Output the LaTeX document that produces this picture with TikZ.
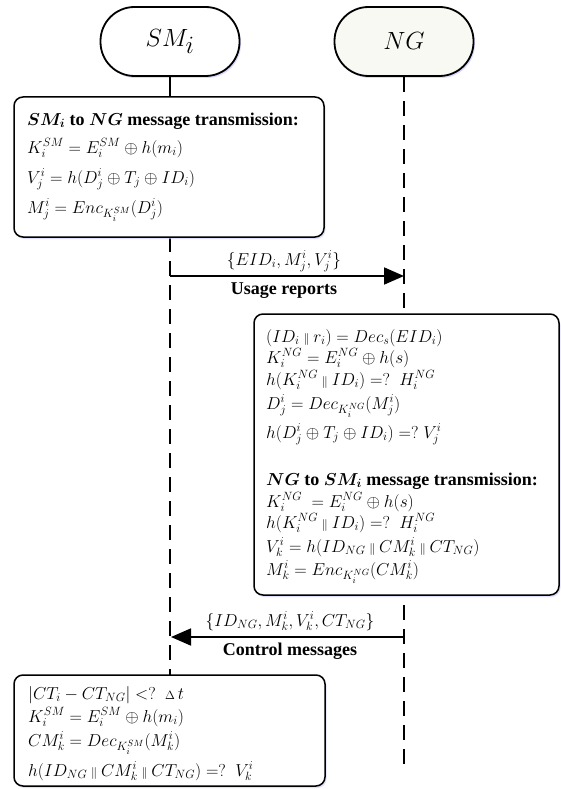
\documentclass[tikz,border=0pt]{standalone}
\usepackage{amsmath,amssymb}
\usepackage{fontspec}
\setmainfont{Liberation Serif}
\usetikzlibrary{arrows.meta,shadows}
\newcommand\cc{\mathbin{\scriptstyle\|}}
\newcommand\qeq{\mathrel{=?}}
\begin{document}
\begin{tikzpicture}[x=1pt,y=-1pt,
  capsule/.style={draw,line width=1.8pt,rounded corners=34pt,minimum width=139pt,minimum height=69pt,inner sep=0pt,
    font=\fontsize{36}{40}\selectfont,
    drop shadow={shadow xshift=1.5pt,shadow yshift=-2pt,fill=blue!25!white,opacity=0.6}},
  msgbox/.style={draw,line width=1.5pt,rounded corners=9pt,fill=white,inner sep=0pt,
    drop shadow={shadow xshift=1.5pt,shadow yshift=-2pt,fill=blue!20!white,opacity=0.6}},
  ln/.style={anchor=base west,inner sep=0pt,font=\fontsize{18}{22}\selectfont},
  lbl/.style={anchor=base,inner sep=0pt,font=\fontsize{18}{22}\selectfont},
  life/.style={line width=1.8pt,dash pattern=on 15pt off 9pt},
  msg/.style={line width=1.8pt,-{Triangle[length=20pt,width=17pt]}}
]
\useasboundingbox (0,0) rectangle (561,789);
% lifelines
\node[capsule,fill=white] (sm) at (170,41.5) {$SM_i$};
\node[capsule,fill={rgb,255:red,249;green,249;blue,243}] (ng) at (404,41.5) {$NG$};
\coordinate (smend) at (170,675);
\coordinate (ngend) at (404,767);
\draw[line width=1.8pt] (sm.south) -- (170,97);
\draw[life] (170,237) -- (smend);
\draw[life] (ng.south) -- (ngend);
% boxes
\node[msgbox,minimum width=310pt,minimum height=140pt] (b1) at (169,167) {};
\node[msgbox,minimum width=305pt,minimum height=281pt] (b2) at (406.5,454.5) {};
\node[msgbox,minimum width=311pt,minimum height=111pt] (b3) at (169.5,730.5) {};
% box 1 text
\node[ln] (t11) at (27,125) {\textbf{$\boldsymbol{SM_i}$ to $\boldsymbol{NG}$ message transmission:}};
\node[ln] (t12) at (27,153) {$K_i^{SM} = E_i^{SM} \oplus h(m_i)$};
\node[ln] (t13) at (27,183) {$V_j^i = h(D_j^i \oplus T_j \oplus ID_i)$};
\node[ln] (t14) at (27,213) {$M_j^i = Enc_{K_i^{SM}}(D_j^i)$};
% box 2 text
\node[ln] (t21) at (266,342) {$(ID_i \cc r_i) = Dec_s(EID_i)$};
\node[ln] (t22) at (266,363) {$K_i^{NG} = E_i^{NG} \oplus h(s)$};
\node[ln] (t23) at (266,385) {$h(K_i^{NG} \cc ID_i) \qeq\ H_i^{NG}$};
\node[ln] (t24) at (266,409) {$D_j^i = Dec_{K_i^{NG}}(M_j^i)$};
\node[ln] (t25) at (266,438) {$h(D_j^i \oplus T_j \oplus ID_i) \qeq V_j^i$};
\node[ln] (t26) at (266,485) {\textbf{$\boldsymbol{NG}$ to $\boldsymbol{SM_i}$ message transmission:}};
\node[ln] (t27) at (266,507) {$K_i^{NG}\ = E_i^{NG} \oplus h(s)$};
\node[ln] (t28) at (266,528) {$h(K_i^{NG} \cc ID_i) \qeq\ H_i^{NG}$};
\node[ln] (t29) at (266,552) {$V_k^i = h(ID_{NG} \cc CM_k^i \cc CT_{NG})$};
\node[ln] (t2a) at (266,575) {$M_k^i = Enc_{K_i^{NG}}(CM_k^i)$};
% box 3 text
\node[ln] (t31) at (28,699) {$|CT_i - CT_{NG}| \mathrel{<?}\ {\scriptstyle\Delta}\,t$};
\node[ln] (t32) at (28,722) {$K_i^{SM} = E_i^{SM} \oplus h(m_i)$};
\node[ln] (t33) at (28,746) {$CM_k^i = Dec_{K_i^{SM}}(M_k^i)$};
\node[ln] (t34) at (28,776) {$h(ID_{NG} \cc CM_k^i \cc CT_{NG}) \qeq\ V_k^i$};
% messages
\coordinate (m1s) at (170,276);
\coordinate (m1e) at (404,276);
\draw[msg] (m1s) -- (m1e);
\node[lbl] (l1a) at (284,265) {$\{EID_i, M_j^i, V_j^i\}$};
\node[lbl] (l1b) at (284,294) {\textbf{Usage reports}};
\coordinate (m2s) at (404,637);
\coordinate (m2e) at (171,637);
\draw[msg] (m2s) -- (m2e);
\node[lbl] (l2a) at (290,626) {$\{ID_{NG}, M_k^i, V_k^i, CT_{NG}\}$};
\node[lbl] (l2b) at (290,655) {\textbf{Control messages}};
\end{tikzpicture}
\end{document}
